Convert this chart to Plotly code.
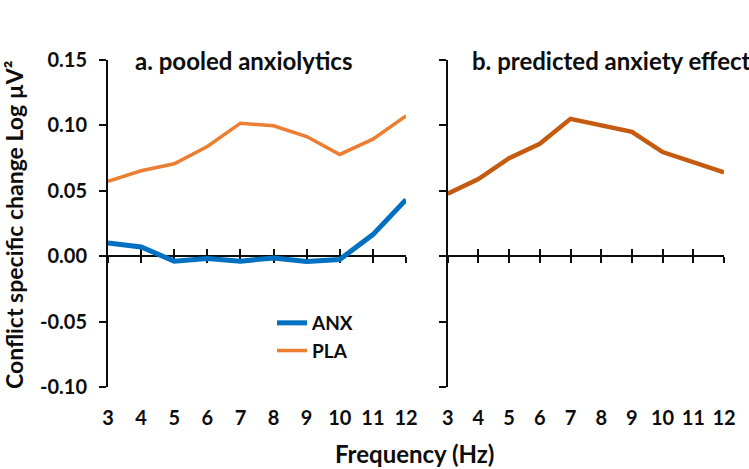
import plotly.graph_objects as go

freq = [3, 4, 5, 6, 7, 8, 9, 10, 11, 12]
anx = [0.0102, 0.0071, -0.0038, -0.0018, -0.0038, -0.0013, -0.0041, -0.0025, 0.0165, 0.0432]
pla = [0.0572, 0.0653, 0.0707, 0.0839, 0.1017, 0.0997, 0.0915, 0.0778, 0.0895, 0.1073]
pred = [0.0478, 0.0590, 0.0750, 0.0859, 0.1050, 0.0997, 0.0951, 0.0796, 0.0719, 0.0641]
y_ticks = [-0.10, -0.05, 0.00, 0.05, 0.10, 0.15]

FONT = "Lato"
INK = "#0d0d0d"
W, H = 749, 469
# page-coordinate layout targets
P_LEFT, P_RIGHT, P_TOP, P_BOT = 108, 724, 60, 387
ML = P_LEFT
MT = P_TOP
MR = W - P_RIGHT
MB = H - P_BOT
PW = W - ML - MR
PH = H - MT - MB

def px(xp):
    return (xp - P_LEFT) / PW

def py(yp):
    return (P_BOT - yp) / PH

left_dom = [0, px(406)]
right_dom = [px(447.7), 1]
yr = [-0.10, 0.15]
zero_pos = (0 - yr[0]) / (yr[1] - yr[0])

fig = go.Figure()
fig.add_trace(go.Scatter(x=freq, y=anx, mode="lines", name="ANX",
                         line=dict(color="#0070C0", width=5), legendgroup="a",
                         xaxis="x", yaxis="y"))
fig.add_trace(go.Scatter(x=freq, y=pla, mode="lines", name="PLA",
                         line=dict(color="#ED7D31", width=3.5), legendgroup="b",
                         xaxis="x", yaxis="y"))
fig.add_trace(go.Scatter(x=freq, y=pred, mode="lines", name="predicted",
                         line=dict(color="#C55A11", width=4.5), showlegend=False,
                         xaxis="x2", yaxis="y2"))
# empty helper traces so that the zero-crossing axes get drawn
for xa, ya in [("x3", "y"), ("x4", "y"), ("x5", "y2"), ("x6", "y2")]:
    fig.add_trace(go.Scatter(x=[None], y=[None], mode="lines", showlegend=False,
                             hoverinfo="skip", xaxis=xa, yaxis=ya))

tickfont = dict(family=FONT, size=20, color=INK, weight="bold")

def label_axis(dom, anchor):
    return dict(domain=dom, range=[3, 12], anchor=anchor, tickmode="array",
                tickvals=freq, ticktext=[str(f) for f in freq], showline=False,
                ticks="", showgrid=False, zeroline=False, tickfont=tickfont,
                ticklabelstandoff=17, automargin=False)

def cross_axis(over, ticks):
    return dict(overlaying=over, range=[3, 12], anchor="free", position=zero_pos,
                tickmode="array", tickvals=freq, showticklabels=False,
                ticks=ticks, ticklen=6, tickwidth=2, tickcolor=INK,
                showline=True, linewidth=2, linecolor=INK, showgrid=False,
                zeroline=False, layer="below traces", automargin=False)

def y_axis(dom_anchor, labels):
    return dict(domain=[0, 1], range=yr, anchor=dom_anchor, tickmode="array",
                tickvals=y_ticks, ticktext=[f"{v:.2f}" for v in y_ticks],
                showticklabels=labels, ticks="outside", ticklen=7, tickwidth=2,
                tickcolor=INK, showline=True, linewidth=2, linecolor=INK,
                showgrid=False, zeroline=False, tickfont=tickfont,
                ticklabelstandoff=8, automargin=False)

fig.update_layout(
    template="none",
    width=W, height=H,
    margin=dict(l=ML, r=MR, t=MT, b=MB, autoexpand=False),
    paper_bgcolor="white", plot_bgcolor="white",
    font=dict(family=FONT, color=INK),
    xaxis=label_axis(left_dom, "y"),
    xaxis2=label_axis(right_dom, "y2"),
    xaxis3=cross_axis("x", "outside"),
    xaxis4=cross_axis("x", "inside"),
    xaxis5=cross_axis("x2", "outside"),
    xaxis6=cross_axis("x2", "inside"),
    yaxis=y_axis("x", True),
    yaxis2=y_axis("x2", False),
    showlegend=True,
    legend=dict(x=px(272), y=py(322 - 14 - 4),
                xanchor="left", yanchor="top", bgcolor="rgba(0,0,0,0)",
                font=dict(family=FONT, size=19, color=INK, weight="bold"),
                traceorder="grouped", tracegroupgap=0),
    annotations=[
        dict(text="a. pooled anxiolytics", xref="paper", yref="paper",
             x=px(243), y=py(60), xanchor="center", yanchor="middle",
             showarrow=False, font=dict(family=FONT, size=24, color=INK, weight="bold")),
        dict(text="b. predicted anxiety effect", xref="paper", yref="paper",
             x=px(470), y=py(60), xanchor="left", yanchor="middle",
             showarrow=False, font=dict(family=FONT, size=24, color=INK, weight="bold")),
        dict(text="Frequency (Hz)", xref="paper", yref="paper",
             x=px(414), y=py(453),
             xanchor="center", yanchor="middle", showarrow=False,
             font=dict(family=FONT, size=24, color=INK, weight="bold")),
        dict(text="Conflict specific change Log µV²", xref="paper", yref="paper",
             x=px(14), y=py(225), textangle=-90,
             xanchor="center", yanchor="middle", showarrow=False,
             font=dict(family=FONT, size=23, color=INK, weight="bold")),
    ],
)

fig.write_html(
    "out.html",
    config={"displayModeBar": False},
    post_script="document.body.style.margin='0';document.body.style.overflow='hidden';",
)
